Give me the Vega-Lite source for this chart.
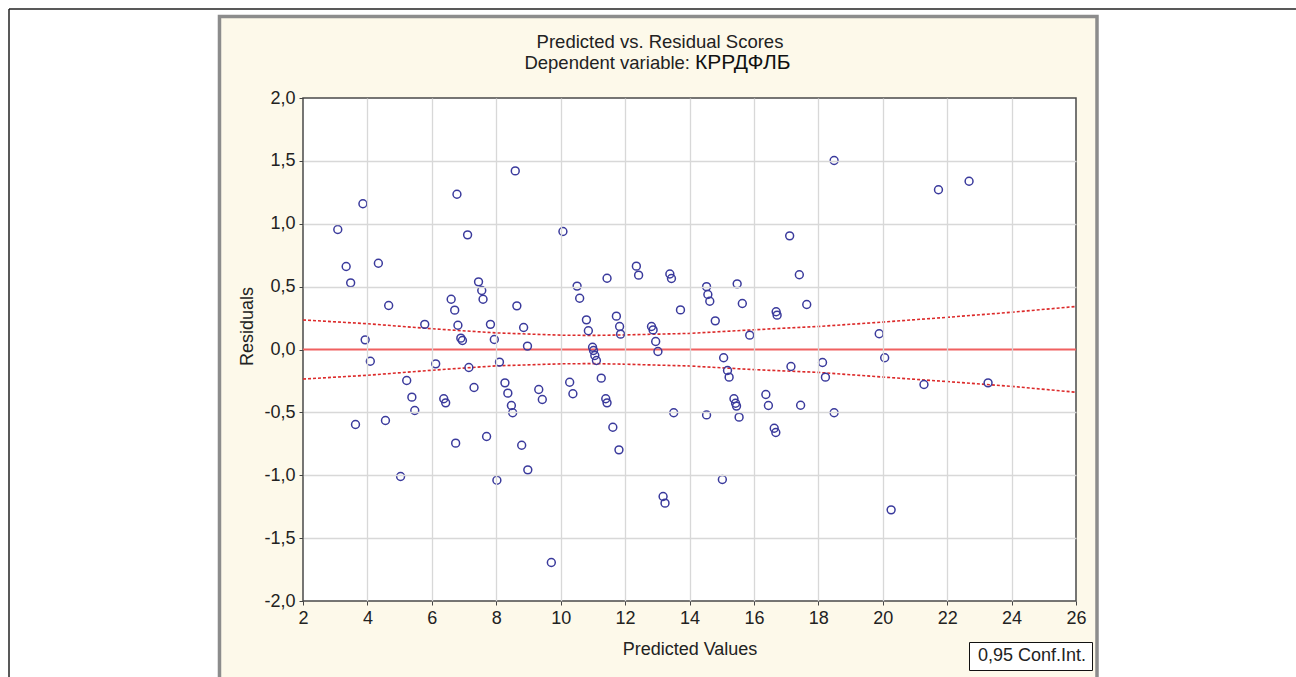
{
  "$schema": "https://vega.github.io/schema/vega-lite/v6.json",
  "width": 773,
  "height": 503,
  "autosize": {"type": "none"},
  "padding": {"left": 303, "top": 98, "right": 220, "bottom": 76},
  "background": "white",
  "config": {"view": {"stroke": null}, "font": "Liberation Sans"},
  "datasets": {
    "points": [
      {"pred": 3.08, "resid": 0.954}, {"pred": 3.34, "resid": 0.66}, {"pred": 3.48, "resid": 0.53},
      {"pred": 3.86, "resid": 1.159}, {"pred": 3.93, "resid": 0.077}, {"pred": 4.09, "resid": -0.093},
      {"pred": 4.34, "resid": 0.686}, {"pred": 4.66, "resid": 0.35}, {"pred": 5.78, "resid": 0.2},
      {"pred": 6.12, "resid": -0.114}, {"pred": 6.6, "resid": 0.4}, {"pred": 6.71, "resid": 0.313},
      {"pred": 6.78, "resid": 1.235}, {"pred": 6.81, "resid": 0.193}, {"pred": 6.9, "resid": 0.09},
      {"pred": 6.95, "resid": 0.072}, {"pred": 7.11, "resid": 0.912}, {"pred": 7.15, "resid": -0.143},
      {"pred": 7.45, "resid": 0.538}, {"pred": 7.55, "resid": 0.469}, {"pred": 7.59, "resid": 0.4},
      {"pred": 7.82, "resid": 0.2}, {"pred": 7.94, "resid": 0.08}, {"pred": 8.1, "resid": -0.1},
      {"pred": 8.59, "resid": 1.42}, {"pred": 8.64, "resid": 0.347}, {"pred": 8.85, "resid": 0.175},
      {"pred": 8.97, "resid": 0.027}, {"pred": 10.07, "resid": 0.938}, {"pred": 10.51, "resid": 0.504},
      {"pred": 10.59, "resid": 0.408}, {"pred": 10.8, "resid": 0.236}, {"pred": 10.86, "resid": 0.149},
      {"pred": 10.99, "resid": 0.018}, {"pred": 11.02, "resid": -0.008}, {"pred": 11.06, "resid": -0.048},
      {"pred": 11.11, "resid": -0.087}, {"pred": 11.26, "resid": -0.228}, {"pred": 11.44, "resid": 0.567},
      {"pred": 11.73, "resid": 0.265}, {"pred": 11.83, "resid": 0.183}, {"pred": 11.86, "resid": 0.122},
      {"pred": 12.35, "resid": 0.663}, {"pred": 12.42, "resid": 0.591}, {"pred": 12.82, "resid": 0.183},
      {"pred": 12.87, "resid": 0.156}, {"pred": 12.95, "resid": 0.064}, {"pred": 13.02, "resid": -0.016},
      {"pred": 13.39, "resid": 0.6}, {"pred": 13.44, "resid": 0.565}, {"pred": 13.72, "resid": 0.315},
      {"pred": 18.49, "resid": 1.503}, {"pred": 21.73, "resid": 1.27}, {"pred": 22.68, "resid": 1.338},
      {"pred": 17.11, "resid": 0.904}, {"pred": 17.41, "resid": 0.594}, {"pred": 14.53, "resid": 0.5},
      {"pred": 14.57, "resid": 0.437}, {"pred": 14.63, "resid": 0.384}, {"pred": 15.48, "resid": 0.522},
      {"pred": 15.64, "resid": 0.366}, {"pred": 14.8, "resid": 0.228}, {"pred": 15.87, "resid": 0.114},
      {"pred": 16.69, "resid": 0.3}, {"pred": 16.72, "resid": 0.273}, {"pred": 17.64, "resid": 0.358},
      {"pred": 19.89, "resid": 0.125}, {"pred": 20.06, "resid": -0.066}, {"pred": 15.06, "resid": -0.066},
      {"pred": 15.18, "resid": -0.167}, {"pred": 15.23, "resid": -0.22}, {"pred": 17.15, "resid": -0.135},
      {"pred": 18.13, "resid": -0.103}, {"pred": 18.22, "resid": -0.22}, {"pred": 3.63, "resid": -0.596},
      {"pred": 4.56, "resid": -0.565}, {"pred": 5.22, "resid": -0.247}, {"pred": 5.38, "resid": -0.379},
      {"pred": 5.47, "resid": -0.485}, {"pred": 6.37, "resid": -0.392}, {"pred": 6.43, "resid": -0.424},
      {"pred": 6.74, "resid": -0.745}, {"pred": 7.31, "resid": -0.302}, {"pred": 7.7, "resid": -0.692},
      {"pred": 8.27, "resid": -0.265}, {"pred": 8.36, "resid": -0.347}, {"pred": 8.47, "resid": -0.445},
      {"pred": 8.51, "resid": -0.503}, {"pred": 8.79, "resid": -0.761}, {"pred": 8.98, "resid": -0.957},
      {"pred": 9.32, "resid": -0.318}, {"pred": 9.43, "resid": -0.398}, {"pred": 5.03, "resid": -1.01},
      {"pred": 8.02, "resid": -1.04}, {"pred": 9.71, "resid": -1.694}, {"pred": 13.18, "resid": -1.169},
      {"pred": 13.24, "resid": -1.222}, {"pred": 13.51, "resid": -0.503}, {"pred": 10.28, "resid": -0.26},
      {"pred": 10.38, "resid": -0.352}, {"pred": 11.4, "resid": -0.392}, {"pred": 11.44, "resid": -0.424},
      {"pred": 11.62, "resid": -0.618}, {"pred": 11.81, "resid": -0.798}, {"pred": 14.53, "resid": -0.52},
      {"pred": 15.38, "resid": -0.392}, {"pred": 15.43, "resid": -0.427}, {"pred": 15.46, "resid": -0.45},
      {"pred": 15.54, "resid": -0.538}, {"pred": 16.37, "resid": -0.358}, {"pred": 16.45, "resid": -0.445},
      {"pred": 16.63, "resid": -0.626}, {"pred": 16.68, "resid": -0.66}, {"pred": 17.45, "resid": -0.443},
      {"pred": 18.49, "resid": -0.503}, {"pred": 21.28, "resid": -0.278}, {"pred": 23.27, "resid": -0.265},
      {"pred": 15.02, "resid": -1.034}, {"pred": 20.26, "resid": -1.275}
    ],
    "bands": [
      {"x": 2, "r": 0.235, "side": "upper", "series": "0,95 Conf.Int."},
      {"x": 4, "r": 0.205, "side": "upper", "series": "0,95 Conf.Int."},
      {"x": 6, "r": 0.165, "side": "upper", "series": "0,95 Conf.Int."},
      {"x": 8, "r": 0.132, "side": "upper", "series": "0,95 Conf.Int."},
      {"x": 10, "r": 0.114, "side": "upper", "series": "0,95 Conf.Int."},
      {"x": 11, "r": 0.112, "side": "upper", "series": "0,95 Conf.Int."},
      {"x": 12, "r": 0.116, "side": "upper", "series": "0,95 Conf.Int."},
      {"x": 14, "r": 0.128, "side": "upper", "series": "0,95 Conf.Int."},
      {"x": 16, "r": 0.157, "side": "upper", "series": "0,95 Conf.Int."},
      {"x": 18, "r": 0.183, "side": "upper", "series": "0,95 Conf.Int."},
      {"x": 20, "r": 0.218, "side": "upper", "series": "0,95 Conf.Int."},
      {"x": 22, "r": 0.256, "side": "upper", "series": "0,95 Conf.Int."},
      {"x": 24, "r": 0.296, "side": "upper", "series": "0,95 Conf.Int."},
      {"x": 26, "r": 0.342, "side": "upper", "series": "0,95 Conf.Int."},
      {"x": 2, "r": -0.235, "side": "lower", "series": "0,95 Conf.Int."},
      {"x": 4, "r": -0.205, "side": "lower", "series": "0,95 Conf.Int."},
      {"x": 6, "r": -0.165, "side": "lower", "series": "0,95 Conf.Int."},
      {"x": 8, "r": -0.13, "side": "lower", "series": "0,95 Conf.Int."},
      {"x": 10, "r": -0.114, "side": "lower", "series": "0,95 Conf.Int."},
      {"x": 11, "r": -0.112, "side": "lower", "series": "0,95 Conf.Int."},
      {"x": 12, "r": -0.117, "side": "lower", "series": "0,95 Conf.Int."},
      {"x": 14, "r": -0.131, "side": "lower", "series": "0,95 Conf.Int."},
      {"x": 16, "r": -0.16, "side": "lower", "series": "0,95 Conf.Int."},
      {"x": 18, "r": -0.182, "side": "lower", "series": "0,95 Conf.Int."},
      {"x": 20, "r": -0.219, "side": "lower", "series": "0,95 Conf.Int."},
      {"x": 22, "r": -0.255, "side": "lower", "series": "0,95 Conf.Int."},
      {"x": 24, "r": -0.293, "side": "lower", "series": "0,95 Conf.Int."},
      {"x": 26, "r": -0.34, "side": "lower", "series": "0,95 Conf.Int."}
    ]
  },
  "layer": [
    {
      "data": {"values": [{}]},
      "mark": {"type": "rect", "fill": "#fdf9ea", "stroke": "#8c8c8c", "strokeWidth": 3.5},
      "encoding": {
        "x": {"datum": -0.593, "type": "quantitative"}, "x2": {"datum": 26.652},
        "y": {"datum": 2.648, "type": "quantitative"}, "y2": {"datum": -2.708}
      }
    },
    {
      "data": {"values": [{}]},
      "mark": {"type": "rule", "stroke": "#222222", "strokeWidth": 1.5},
      "encoding": {
        "x": {"datum": -7.128, "type": "quantitative"}, "x2": {"datum": 32.83},
        "y": {"datum": 2.708, "type": "quantitative"}
      }
    },
    {
      "data": {"values": [{}]},
      "mark": {"type": "rule", "stroke": "#222222", "strokeWidth": 1.5},
      "encoding": {
        "x": {"datum": -7.128, "type": "quantitative"},
        "y": {"datum": 2.708, "type": "quantitative"}, "y2": {"datum": -2.8}
      }
    },
    {
      "data": {"values": [{}]},
      "mark": {"type": "rect", "fill": "white", "stroke": "#4a4a4a", "strokeWidth": 1.5},
      "encoding": {
        "x": {"datum": 2, "type": "quantitative"}, "x2": {"datum": 26},
        "y": {"datum": 2, "type": "quantitative"}, "y2": {"datum": -2}
      }
    },
    {
      "data": {"values": [{}]},
      "mark": {"type": "rule", "stroke": "#f06060", "strokeWidth": 2},
      "encoding": {"y": {"datum": 0, "type": "quantitative"}}
    },
    {
      "data": {"name": "bands"},
      "mark": {"type": "line", "stroke": "#dc2a2a", "strokeWidth": 1.6},
      "encoding": {
        "x": {"field": "x", "type": "quantitative"},
        "y": {"field": "r", "type": "quantitative"},
        "detail": {"field": "side"},
        "strokeDash": {
          "field": "series", "type": "nominal",
          "scale": {"range": [[3, 2]]},
          "legend": {
            "orient": "none", "legendX": 666, "legendY": 544, "title": null,
            "strokeColor": "#111111", "fillColor": "white", "padding": 5,
            "labelFontSize": 18, "labelFont": "Liberation Sans", "labelColor": "#222222",
            "symbolSize": 0, "symbolStrokeWidth": 0, "labelOffset": -14
          }
        }
      }
    },
    {
      "data": {"name": "points"},
      "mark": {"type": "point", "shape": "circle", "filled": false, "stroke": "#3a3a9c", "strokeWidth": 1.5, "size": 62, "opacity": 1},
      "encoding": {
        "x": {
          "field": "pred", "type": "quantitative",
          "scale": {"domain": [2, 26], "nice": false, "zero": false},
          "axis": {
            "title": "Predicted Values", "values": [2, 4, 6, 8, 10, 12, 14, 16, 18, 20, 22, 24, 26],
            "grid": true, "gridColor": "#d8d8d8", "gridWidth": 1.3,
            "gridOpacity": {"condition": {"test": "datum.value === 2 || datum.value === 26", "value": 0}, "value": 1},
            "domain": false, "ticks": true, "tickSize": 4, "tickColor": "#444444",
            "labelFont": "Liberation Sans", "labelFontSize": 18, "labelColor": "#222222", "labelPadding": 4, "labelFlush": false,
            "titleFont": "Liberation Sans", "titleFontSize": 18, "titleFontWeight": "normal", "titleColor": "#222222", "titlePadding": 13,
            "zindex": 1
          }
        },
        "y": {
          "field": "resid", "type": "quantitative",
          "scale": {"domain": [-2, 2], "nice": false, "zero": false},
          "axis": {
            "title": "Residuals", "values": [-2, -1.5, -1, -0.5, 0, 0.5, 1, 1.5, 2],
            "labelExpr": "replace(replace(format(datum.value, '.1f'), '.', ','), '\u2212', '-')",
            "grid": true, "gridColor": "#d8d8d8", "gridWidth": 1.3,
            "gridOpacity": {"condition": {"test": "datum.value === 2 || datum.value === -2 || datum.value === 0", "value": 0}, "value": 1},
            "domain": false, "ticks": true, "tickSize": 4, "tickColor": "#444444",
            "labelFont": "Liberation Sans", "labelFontSize": 18, "labelColor": "#222222", "labelPadding": 4, "labelFlush": false,
            "titleFont": "Liberation Sans", "titleFontSize": 18, "titleFontWeight": "normal", "titleColor": "#222222",
            "titleX": -56, "titleY": 228, "titleAngle": 270, "titleAlign": "center", "titleBaseline": "middle",
            "zindex": 1
          }
        }
      }
    },
    {
      "data": {"values": [{}]},
      "mark": {"type": "text", "text": "Predicted vs. Residual Scores", "font": "Liberation Sans", "fontSize": 18.5, "color": "#222222", "align": "center", "baseline": "alphabetic"},
      "encoding": {"x": {"datum": 13.084, "type": "quantitative"}, "y": {"datum": 2.398, "type": "quantitative"}}
    },
    {
      "data": {"values": [{}]},
      "mark": {"type": "text", "text": "Dependent variable:", "font": "Liberation Sans", "fontSize": 18.5, "color": "#222222", "align": "right", "baseline": "alphabetic"},
      "encoding": {"x": {"datum": 14.016, "type": "quantitative"}, "y": {"datum": 2.231, "type": "quantitative"}}
    },
    {
      "data": {"values": [{}]},
      "mark": {"type": "text", "text": "КРРДФЛБ", "font": "Liberation Sans", "fontSize": 21, "color": "#111111", "align": "left", "baseline": "alphabetic"},
      "encoding": {"x": {"datum": 14.171, "type": "quantitative"}, "y": {"datum": 2.231, "type": "quantitative"}}
    }
  ]
}
